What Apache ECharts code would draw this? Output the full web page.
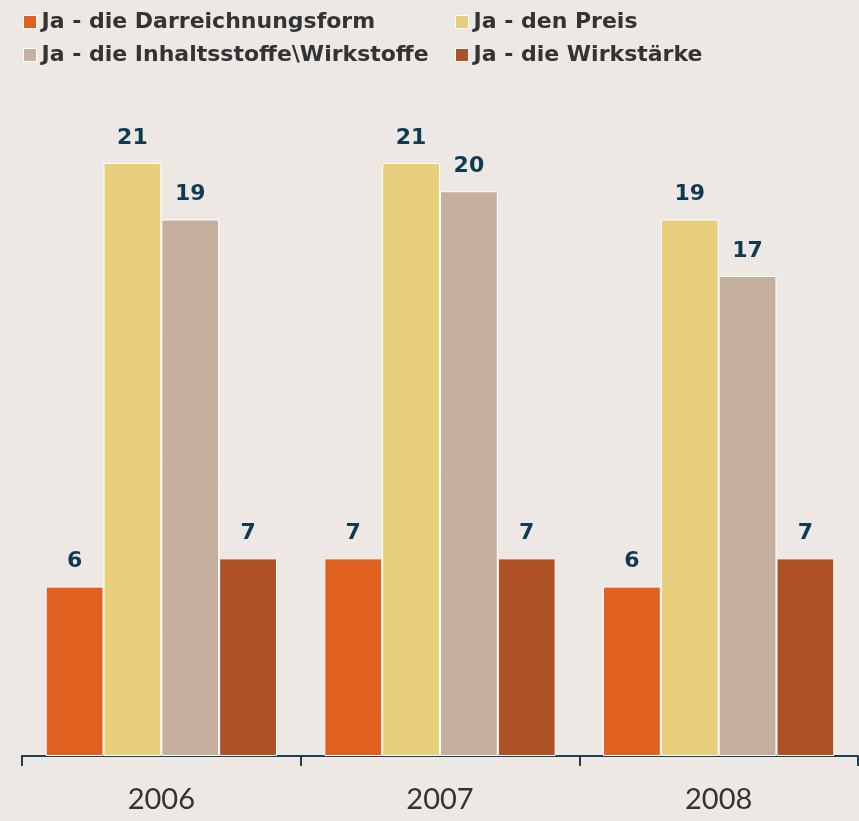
<!DOCTYPE html>
<html>
<head>
<meta charset="utf-8">
<script src="https://cdn.jsdelivr.net/npm/echarts@6/dist/echarts.min.js"></script>
<style>
  html, body { margin: 0; padding: 0; background: #ede8e4; }
  #chart { width: 859px; height: 821px; }
</style>
</head>
<body>
<div id="chart"></div>
<script>
const years = ['2006', '2007', '2008'];
const seriesNames = [
  'Ja - die Darreichnungsform',
  'Ja - den Preis',
  'Ja - die Inhaltsstoffe\\Wirkstoffe',
  'Ja - die Wirkstärke'
];
const darreichung = [6, 7, 6];
const preis = [21, 21, 19];
const inhaltsstoffe = [19, 20, 17];
const wirkstaerke = [7, 7, 7];
const colors = ['#e06020', '#e8cf7c', '#c5b09d', '#ae5226'];

const myChart = echarts.init(document.getElementById('chart'));

const values = [darreichung, preis, inhaltsstoffe, wirkstaerke];
const series = seriesNames.map(function (name, i) {
  return {
    name: name,
    type: 'bar',
    data: values[i],
    barGap: '0%',
    barCategoryGap: '17%',
    itemStyle: { color: colors[i], borderColor: '#ffffff', borderWidth: 1 },
    label: {
      show: true,
      position: 'top',
      distance: 14,
      color: '#0e3a52',
      fontSize: 22,
      fontWeight: 'bold',
      fontFamily: 'DejaVu Sans'
    }
  };
});

const legendText = {
  color: '#333333',
  fontSize: 22,
  fontWeight: 'bold',
  fontFamily: 'DejaVu Sans'
};

// two separate legends so the columns line up like the original
const legendBase = {
  orient: 'vertical',
  top: 6,
  itemWidth: 13,
  itemHeight: 13,
  itemGap: 11,
  icon: 'rect',
  itemStyle: { borderColor: '#ffffff', borderWidth: 1 },
  textStyle: legendText
};

myChart.setOption({
  backgroundColor: '#ede8e4',
  animation: false,
  legend: [
    Object.assign({}, legendBase, { data: [seriesNames[0], seriesNames[2]], left: 18 }),
    Object.assign({}, legendBase, { data: [seriesNames[1], seriesNames[3]], left: 450 })
  ],
  grid: { left: 22, right: 1, top: 163, bottom: 65, containLabel: false },
  xAxis: {
    type: 'category',
    data: years,
    axisLine: { lineStyle: { color: '#1b3f55', width: 2 } },
    axisTick: { show: true, length: 10, lineStyle: { color: '#1b3f55', width: 2 } },
    axisLabel: { color: '#333333', fontSize: 29, fontFamily: 'Lato', margin: 29 }
  },
  yAxis: {
    type: 'value',
    min: 0,
    max: 21,
    show: false,
    splitLine: { show: false }
  },
  series: series
});
</script>
</body>
</html>
